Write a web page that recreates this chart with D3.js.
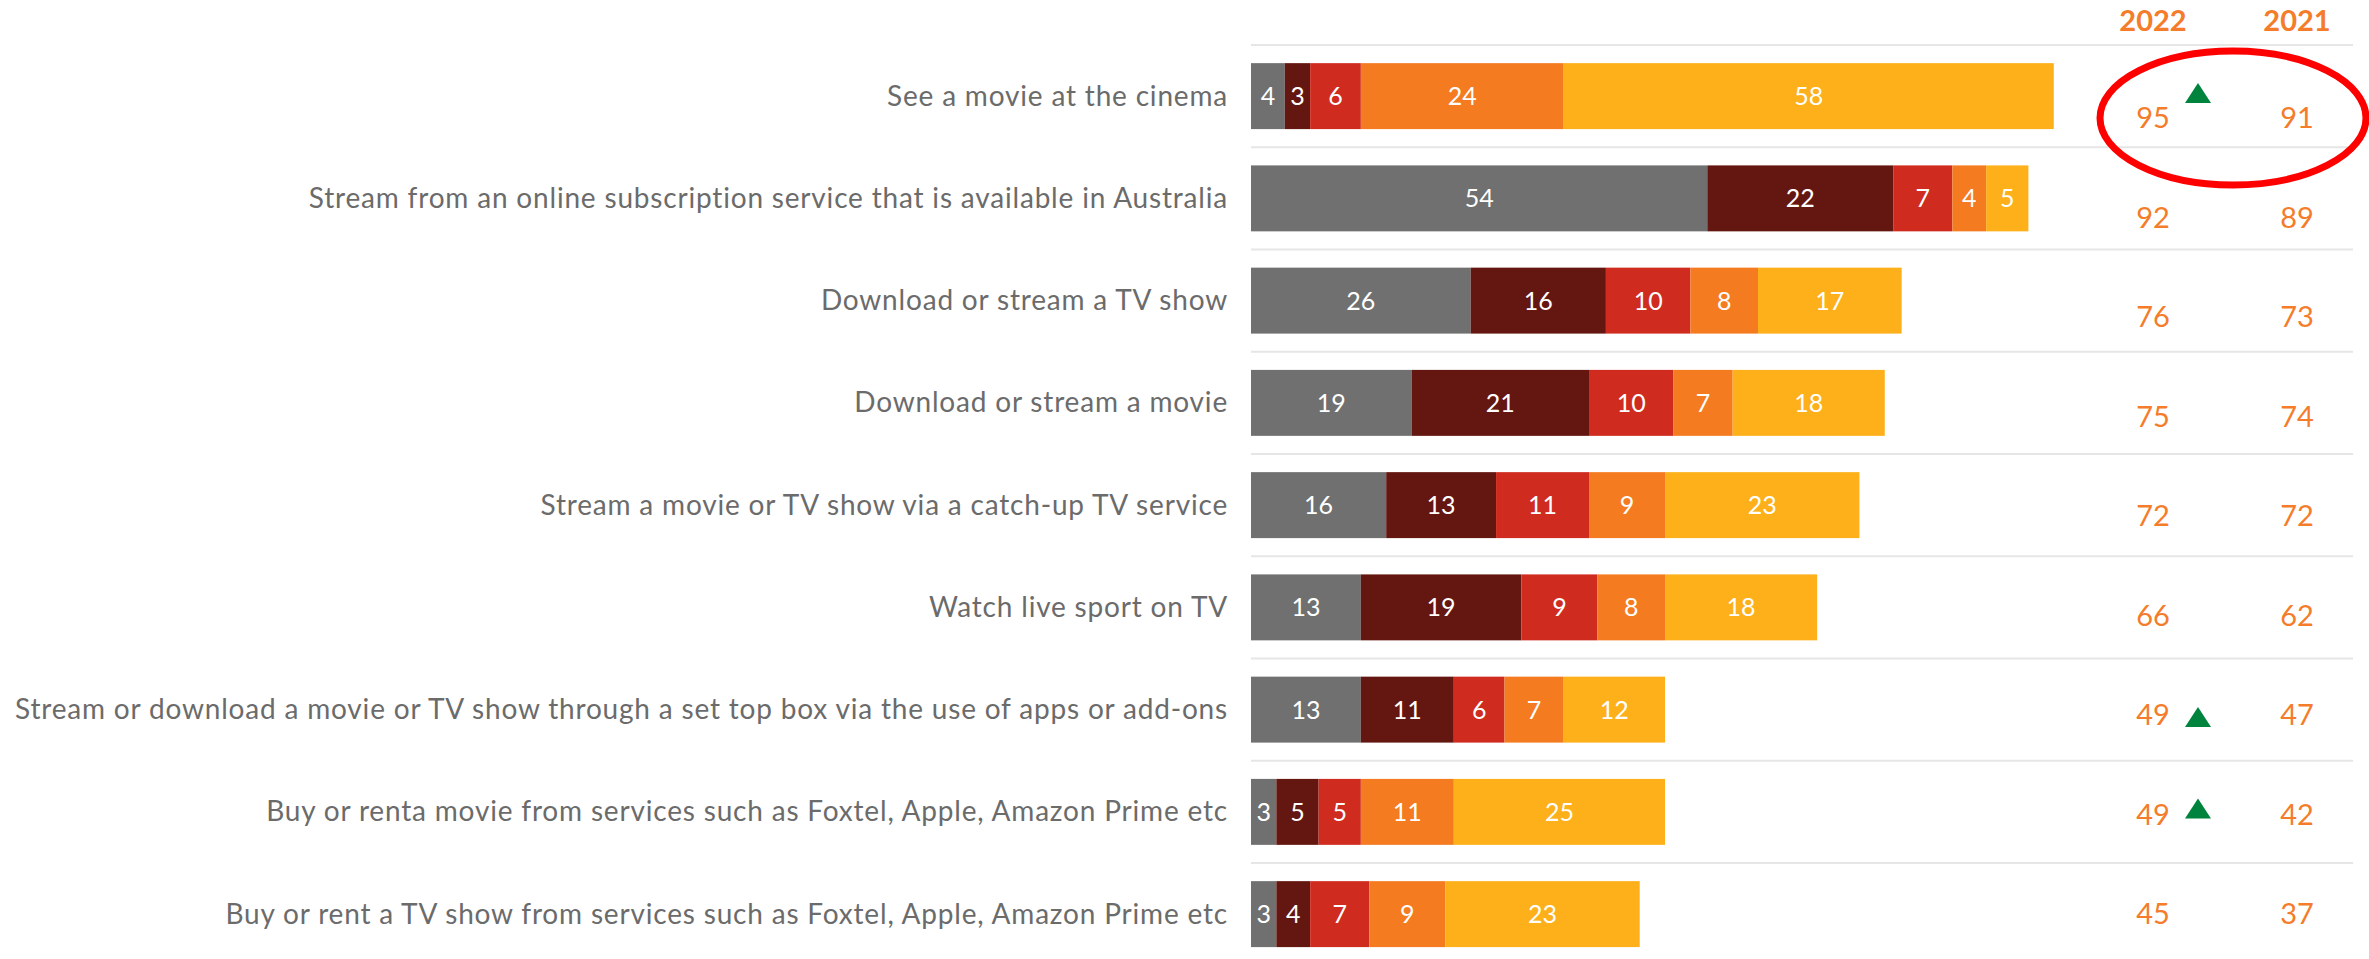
<!DOCTYPE html>
<meta charset="utf-8">
<style>
body { margin: 0; background: #fff; }
text { font-family: Lato, "Open Sans", sans-serif; }
.label { fill: #6b6b6b; }
.seg text { fill: #fff; }
.val, .head { fill: #f47c2a; }
.head { font-weight: bold; }
.grid line { stroke: #e6e6e6; stroke-width: 2px; }
</style>
<body>
<script src="https://cdn.jsdelivr.net/npm/d3@7"></script>
<script>

var categories = [
  "See a movie at the cinema",
  "Stream from an online subscription service that is available in Australia",
  "Download or stream a TV show",
  "Download or stream a movie",
  "Stream a movie or TV show via a catch-up TV service",
  "Watch live sport on TV",
  "Stream or download a movie or TV show through a set top box via the use of apps or add-ons",
  "Buy or renta movie from services such as Foxtel, Apple, Amazon Prime etc",
  "Buy or rent a TV show from services such as Foxtel, Apple, Amazon Prime etc"
];
var series = ["s1", "s2", "s3", "s4", "s5"];
var s1 = [4, 54, 26, 19, 16, 13, 13, 3, 3];
var s2 = [3, 22, 16, 21, 13, 19, 11, 5, 4];
var s3 = [6, 7, 10, 10, 11, 9, 6, 5, 7];
var s4 = [24, 4, 8, 7, 9, 8, 7, 11, 9];
var s5 = [58, 5, 17, 18, 23, 18, 12, 25, 23];
var years = ["2022", "2021"];
var total2022 = [95, 92, 76, 75, 72, 66, 49, 49, 45];
var total2021 = [91, 89, 73, 74, 72, 62, 47, 42, 37];
var rising = [true, false, false, false, false, false, true, true, false];

var colors = ["#707070", "#641610", "#cf2b1f", "#f47b20", "#fdb019"];

var width = 2369, height = 959;
var svg = d3.select("body").append("svg")
    .attr("width", width)
    .attr("height", height);

var rows = categories.map(function(c, i) {
  return { name: c, s1: s1[i], s2: s2[i], s3: s3[i], s4: s4[i], s5: s5[i],
           y2022: total2022[i], y2021: total2021[i], up: rising[i] };
});

var stack = d3.stack().keys(series)(rows);

var x = d3.scaleLinear().domain([0, 100]).range([1251, 2096]);
var step = 102.25;
var y = d3.scaleBand()
    .domain(categories)
    .range([45, 45 + step * categories.length])
    .paddingInner(0.355)
    .paddingOuter(0.1775);
var yVal = d3.scalePoint().domain(categories).range([118, 914]);
var xCol = d3.scalePoint().domain(years).range([2153, 2297]);
var color = d3.scaleOrdinal().domain(series).range(colors);

// separators
svg.append("g").attr("class", "grid")
  .selectAll("line")
  .data(categories)
  .enter().append("line")
    .attr("x1", 1251).attr("x2", 2353)
    .attr("y1", function(d) { return y(d) - y.step() * y.paddingInner() / 2; })
    .attr("y2", function(d) { return y(d) - y.step() * y.paddingInner() / 2; });

// bars
var seg = svg.append("g").selectAll("g")
  .data(stack)
  .enter().append("g")
    .attr("class", "seg");

seg.selectAll("rect")
  .data(function(d) { return d.map(function(p) { p.key = d.key; return p; }); })
  .enter().append("rect")
    .attr("x", function(d) { return x(d[0]); })
    .attr("width", function(d) { return x(d[1]) - x(d[0]); })
    .attr("y", function(d) { return y(d.data.name); })
    .attr("height", y.bandwidth())
    .attr("fill", function(d) { return color(d.key); });

seg.selectAll("text")
  .data(function(d) { return d; })
  .enter().append("text")
    .attr("x", function(d) { return (x(d[0]) + x(d[1])) / 2; })
    .attr("y", function(d) { return y(d.data.name) + y.bandwidth() / 2; })
    .attr("dy", "0.36em")
    .attr("text-anchor", "middle")
    .style("font-size", "25px")
    .text(function(d) { return d[1] - d[0]; });

// category labels, spaced out to match the original width
var labels = svg.append("g").selectAll("text")
  .data(categories)
  .enter().append("text")
    .attr("class", "label")
    .attr("x", 1228)
    .attr("y", function(d) { return y(d) + y.bandwidth() / 2; })
    .attr("dy", "0.34em")
    .attr("text-anchor", "end")
    .style("font-size", "28px")
    .text(function(d) { return d; });
var longest = labels.nodes().reduce(function(a, n) {
  return n.getComputedTextLength() > a.getComputedTextLength() ? n : a;
});
var extra = (1213 - longest.getComputedTextLength()) / (longest.textContent.length);
labels.style("letter-spacing", extra + "px");

// year headers
svg.append("g").selectAll("text")
  .data(years)
  .enter().append("text")
    .attr("class", "head")
    .attr("x", function(d) { return xCol(d); })
    .attr("y", 31)
    .attr("text-anchor", "middle")
    .style("font-size", "29px")
    .text(function(d) { return d; });

// totals
var vals = svg.append("g");
vals.selectAll("text.v22")
  .data(rows)
  .enter().append("text")
    .attr("class", "val")
    .attr("x", xCol("2022"))
    .attr("y", function(d) { return yVal(d.name); })
    .attr("dy", "0.36em")
    .attr("text-anchor", "middle")
    .style("font-size", "29px")
    .text(function(d) { return d.y2022; });
vals.selectAll("text.v21")
  .data(rows)
  .enter().append("text")
    .attr("class", "val")
    .attr("x", xCol("2021"))
    .attr("y", function(d) { return yVal(d.name); })
    .attr("dy", "0.36em")
    .attr("text-anchor", "middle")
    .style("font-size", "29px")
    .text(function(d) { return d.y2021; });

// significance arrows
var arrowDy = [-25, 0, 0, 0, 0, 0, 2, -6, 0];
svg.append("g").selectAll("path")
  .data(rows.filter(function(d) { return d.up; }))
  .enter().append("path")
    .attr("d", "M-13,10L13,10L0,-10Z")
    .attr("fill", "#00843d")
    .attr("transform", function(d) {
      var i = categories.indexOf(d.name);
      return "translate(" + (xCol("2022") + 45) + "," + (yVal(d.name) + arrowDy[i]) + ")";
    });

// red highlight ring
svg.append("ellipse")
    .attr("cx", (xCol("2022") + xCol("2021")) / 2 + 8)
    .attr("cy", yVal(categories[0]))
    .attr("rx", 133)
    .attr("ry", 67)
    .attr("fill", "none")
    .attr("stroke", "#ff0000")
    .attr("stroke-width", 7);

</script>
</body>
